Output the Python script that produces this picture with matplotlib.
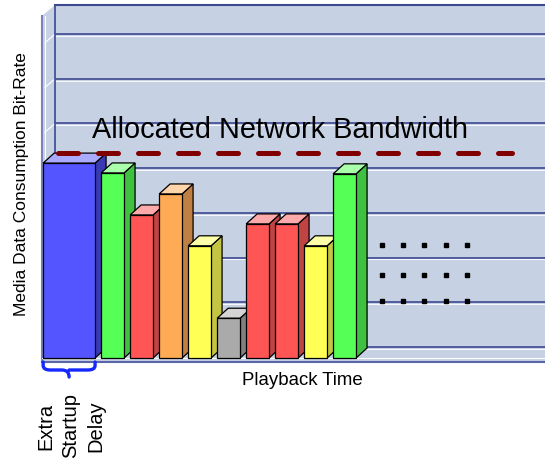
import numpy as np
import matplotlib.pyplot as plt
from matplotlib.patches import Polygon, Rectangle, PathPatch
from matplotlib.path import Path

plt.rcParams['font.family'] = ['Liberation Sans', 'DejaVu Sans']

# bar slots and heights (front plane units, 1 unit = 1 gridline step)
bar_x = [0, 2, 3, 4, 5, 6, 7, 8, 9, 10]
bar_w = [1.79, 0.79, 0.79, 0.79, 0.79, 0.79, 0.79, 0.79, 0.79, 0.79]
bar_h = [4.36, 4.14, 3.20, 3.67, 2.51, 0.89, 3.00, 3.00, 2.51, 4.12]
bar_col = ['blue', 'green', 'red', 'orange', 'yellow', 'gray',
           'red', 'red', 'yellow', 'green']
bandwidth = 4.36

# continuation dots to the right of the bars
dot_x = [11.72, 12.45, 13.17, 13.93, 14.66]
dot_y = [2.53, 1.86, 1.28]

# face colours: front, top, side
palette = {
    'blue':   ('#5555ff', '#aaaaff', '#3a3ab4'),
    'green':  ('#55ff55', '#aaffaa', '#40c040'),
    'red':    ('#ff5555', '#ffaaaa', '#c04444'),
    'orange': ('#ffaa55', '#ffd5aa', '#c08044'),
    'yellow': ('#ffff55', '#ffffaa', '#c4c444'),
    'gray':   ('#aaaaaa', '#d4d4d4', '#808080'),
}

W, H = 545, 459
PX_X, PX_Y = 29.0, 44.7          # pixels per unit
X0, Y0 = 42, 358                 # pixel position of origin (from top)

fig = plt.figure(figsize=(W / 100, H / 100), dpi=100)
ax = fig.add_axes([0, 0, 1, 1])
ax.set_xlim(-X0 / PX_X, (W - X0) / PX_X)
ax.set_ylim(-(H - Y0) / PX_Y, Y0 / PX_Y)
ax.axis('off')

xmax = (W - X0) / PX_X + 1
wdx, wdy = 13 / PX_X, 11 / PX_Y     # wall depth
bdx, bdy = 11 / PX_X, 10 / PX_Y     # bar depth
top = (Y0 - 5) / PX_Y

wall = '#c6d1e3'
grid = '#3b4890'

# floor, side wall and back wall
ax.add_patch(Polygon([(0, -4 / PX_Y), (0, 0), (wdx, wdy), (xmax, wdy), (xmax, -4 / PX_Y)],
                     closed=True, fc=wall, ec='none', zorder=0))
ax.add_patch(Polygon([(0, 0), (wdx, wdy), (wdx, top), (0, top - wdy)],
                     closed=True, fc=wall, ec='none', zorder=0))
ax.add_patch(Rectangle((wdx, wdy), xmax, top - wdy, fc=wall, ec='none', zorder=0))

for k in range(8):
    ax.plot([wdx, xmax], [wdy + k, wdy + k], color=grid, lw=1.2, zorder=1)
    ax.plot([wdx, xmax], [wdy + k - 0.04, wdy + k - 0.04], color='white', lw=0.6, zorder=1)
    if k > 0:
        ax.plot([0.1, wdx], [k + 0.05, wdy + k], color='white', lw=0.8, zorder=1)
ax.plot([wdx, xmax], [top, top], color=grid, lw=1.5, zorder=1)
ax.plot([wdx, wdx], [wdy, top], color=grid, lw=1.2, zorder=1)
ax.plot([0, 0], [-4 / PX_Y, top - wdy], color='#7a82b8', lw=1.5, zorder=1)
ax.plot([0.1, 0.1], [0, top - wdy], color='white', lw=0.8, zorder=1)
ax.plot([0, xmax], [0, 0], color='white', lw=0.8, zorder=1)
ax.plot([0, xmax], [-4 / PX_Y, -4 / PX_Y], color='#5a64a8', lw=1.5, zorder=1)

# pseudo-3D bars, drawn left to right so each one covers its neighbour's side
for i, (x, w, h, c) in enumerate(zip(bar_x, bar_w, bar_h, bar_col)):
    front, lit, dark = palette[c]
    l = x + 0.04
    z = 3 + i
    ax.add_patch(Polygon([(l + w, 0), (l + w + bdx, bdy), (l + w + bdx, h + bdy), (l + w, h)],
                         closed=True, fc=dark, ec='black', lw=0.9, zorder=z))
    ax.add_patch(Polygon([(l, h), (l + bdx, h + bdy), (l + w + bdx, h + bdy), (l + w, h)],
                         closed=True, fc=lit, ec='black', lw=0.9, zorder=z))
    ax.add_patch(Rectangle((l, 0), w, h, fc=front, ec='black', lw=0.9, zorder=z))

# allocated bandwidth on the back wall
ax.plot([wdx + 0.12, 16.2], [bandwidth + wdy - 0.02] * 2, color='#800000', lw=3.6,
        dashes=(4, 4), dash_capstyle='round', zorder=20)
ax.text(8.2, 4.92, 'Allocated Network Bandwidth', fontsize=20.8, ha='center',
        va='baseline', color='black', zorder=21)

for y in dot_y:
    ax.plot(dot_x, [y] * len(dot_x), 's', color='black', ms=2.6, zorder=20)

# brace under the startup bar
l, r = bar_x[0] + 0.04, bar_x[0] + 0.04 + bar_w[0]
m = (l + r) / 2
y1, y2, y3 = -4 / PX_Y, -12 / PX_Y, -19 / PX_Y
cx, cy = 0.25, 0.1
verts = [(l, y1), (l, y2 + cy), (l, y2), (l + cx, y2),
         (m - cx, y2), (m, y2), (m, y3),
         (m, y2), (m + cx, y2),
         (r - cx, y2), (r, y2), (r, y2 + cy), (r, y1)]
codes = [Path.MOVETO, Path.LINETO, Path.CURVE3, Path.CURVE3,
         Path.LINETO, Path.CURVE3, Path.CURVE3,
         Path.MOVETO, Path.LINETO,
         Path.LINETO, Path.CURVE3, Path.CURVE3, Path.LINETO]
ax.add_patch(PathPatch(Path(verts, codes), fc='none', ec='#1428ff', lw=2.4,
                       capstyle='round', zorder=20))

ax.text(8.97, -0.51, 'Playback Time', fontsize=13.4, ha='center', va='center')
ax.text(-0.72, 3.9, 'Media Data Consumption Bit-Rate', fontsize=12.5,
        rotation=90, ha='center', va='center')
ax.text(1.0, -1.52, 'Extra\nStartup\nDelay', fontsize=14.5, rotation=90,
        ha='center', va='center', multialignment='center', linespacing=1.38)

fig.savefig('out.png', dpi=100)
